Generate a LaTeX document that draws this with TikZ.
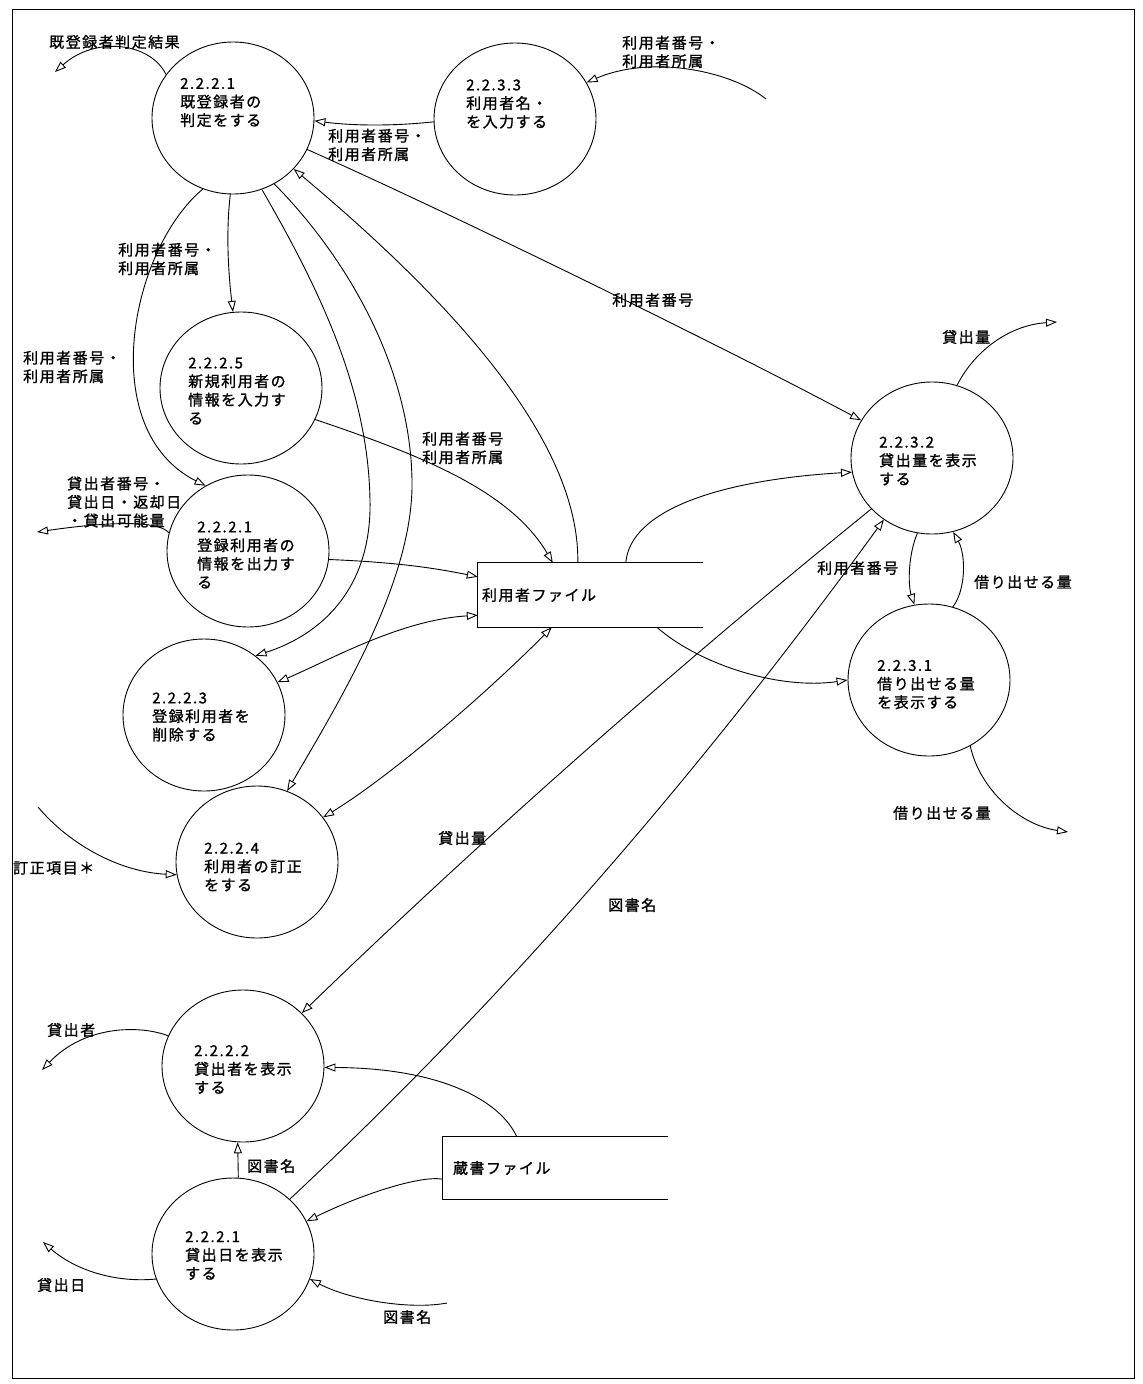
\documentclass[tikz,border=0pt]{standalone}
\usepackage{fontspec}
\setmainfont{Noto Sans CJK JP}[LetterSpace=10,FakeBold=1.2]
\usetikzlibrary{arrows.meta,shapes.geometric}
\begin{document}
\begin{tikzpicture}[x=1pt,y=-1pt,
  proc/.style={ellipse,draw,line width=0.9pt,minimum width=162pt,minimum height=152pt,inner sep=0pt},
  txt/.style={anchor=west,inner sep=0pt,align=left,font=\fontsize{15}{18.5}\selectfont},
  flow/.style={draw,line width=0.9pt,-{Triangle[open,length=11pt,width=8pt]}},
  bflow/.style={draw,line width=0.9pt,{Triangle[open,length=11pt,width=8pt]}-{Triangle[open,length=11pt,width=8pt]}},
  store/.style={inner sep=0pt,minimum width=225pt,align=left,font=\fontsize{15}{18.5}\selectfont},
  storeline/.style={draw,line width=0.9pt}]
\useasboundingbox (0,0) rectangle (1143,1384);
\fill[white] (0,0) rectangle (1143,1384);
\draw[line width=1pt] (12,9) rectangle (1134,1378);

% processes
\node[proc] (c1) at (233,118) {};
\node[proc] (c2) at (515,119) {};
\node[proc] (c3) at (241,388) {};
\node[proc] (c4) at (248,551) {};
\node[proc] (c5) at (204,715) {};
\node[proc] (c6) at (257,862) {};
\node[proc] (c7) at (243,1066) {};
\node[proc] (c8) at (233,1254) {};
\node[proc] (c9) at (932,458) {};
\node[proc] (c10) at (929,680) {};

% process texts
\node[txt] (t1) at (180,102.5) {2.2.2.1\\既登録者の\\判定をする};
\node[txt] (t2) at (466,104) {2.2.3.3\\利用者名・\\を入力する};
\node[txt] (t3) at (188,391) {2.2.2.5\\新規利用者の\\情報を入力す\\る};
\node[txt] (t4) at (197,555) {2.2.2.1\\登録利用者の\\情報を出力す\\る};
\node[txt] (t5) at (152,717) {2.2.2.3\\登録利用者を\\削除する};
\node[txt] (t6) at (204,867) {2.2.2.4\\利用者の訂正\\をする};
\node[txt] (t7) at (194,1069.5) {2.2.2.2\\貸出者を表示\\する};
\node[txt] (t8) at (185,1255.5) {2.2.2.1\\貸出日を表示\\する};
\node[txt] (t9) at (879,461) {2.2.3.2\\貸出量を表示\\する};
\node[txt] (t10) at (877,684.5) {2.2.3.1\\借り出せる量\\を表示する};

% data stores
\node[store,minimum height=64pt,text width=217pt] (uf) at (590.5,595) {利用者ファイル};
\draw[storeline] (uf.north east) -- (uf.north west) -- (uf.south west) -- (uf.south east);
\node[store,minimum height=62pt,text width=205pt] (zs) at (555.5,1168) {蔵書ファイル};
\draw[storeline] (zs.north east) -- (zs.north west) -- (zs.south west) -- (zs.south east);

% free ends
\coordinate (oA) at (55,72);
\coordinate (iC) at (766,99);
\coordinate (o9) at (1057,322);
\coordinate (o10) at (1068,832);
\coordinate (i6) at (38,807);
\coordinate (o4) at (37,532);
\coordinate (o7) at (42,1070);
\coordinate (o8) at (43,1242);
\coordinate (i8) at (447,1303);

% connectors
\draw[flow] (c1.147) .. controls (150,42) and (95,36) .. (oA);
\draw[flow] (c2.182) .. controls (395,126) and (355,126) .. (c1.-2);
\draw[flow] (iC) .. controls (730,70) and (650,55) .. (c2.27);
\draw[flow] (c1.-23) .. controls (448,212) and (722,346) .. (c9.152);
\draw[flow] ([xshift=100pt]uf.north west) .. controls (580,440) and (450,300) .. (c1.-40);
\draw[flow] (c1.-92) .. controls (226,230) and (228,270) .. (c3.96);
\draw[flow] (c1.-113) .. controls (130,250) and (95,430) .. (c4.123);
\draw[flow] (c1.-68) .. controls (320,290) and (368,390) .. (370,500) .. controls (372,590) and (320,635) .. (c5.49);
\draw[flow] (c1.-58) .. controls (340,250) and (410,360) .. (412,480) .. controls (414,580) and (340,700) .. (c6.67);
\draw[flow] (c3.-23) .. controls (420,455) and (510,490) .. ([xshift=75pt]uf.north west);
\draw[flow] (c4.-6) .. controls (390,562) and (430,567) .. ([yshift=-14pt]uf.north west);
\draw[bflow] (c5.24) .. controls (330,660) and (400,620) .. ([yshift=12pt]uf.south west);
\draw[bflow] (c6.34) .. controls (400,770) and (500,680) .. ([xshift=74pt]uf.south west);
\draw[flow] ([xshift=148pt]uf.north west) .. controls (630,510) and (720,480) .. (c9.190);
\draw[flow] ([xshift=179pt]uf.south west) .. controls (700,665) and (780,690) .. (c10.180);
\draw[flow] (c9.220) .. controls (675,668) and (485,836) .. (c7.42);
\draw[flow] (c8.44) .. controls (492,1010) and (684,794) .. (c9.232);
\draw[flow] (c9.259) .. controls (908,555) and (908,585) .. (c10.101);
\draw[flow] (c10.72) .. controls (966,590) and (966,555) .. (c9.-74);
\draw[flow] (c9.71) .. controls (975,350) and (1010,325) .. (o9);
\draw[flow] (c10.-58) .. controls (980,790) and (1020,825) .. (o10);
\draw[flow] (i6) .. controls (70,845) and (120,872) .. (c6.189);
\draw[flow] (c4.167) .. controls (160,522) and (120,520) .. (o4);
\draw[flow] (c7.158) .. controls (140,1025) and (85,1025) .. (o7);
\draw[flow] (c8.198) .. controls (115,1283) and (75,1270) .. (o8);
\draw[flow] (c8.86) -- (c7.266);
\draw[flow] ([xshift=74pt]zs.north west) .. controls (500,1100) and (440,1068) .. (c7.-1);
\draw[flow] ([yshift=20pt]zs.south west) .. controls (420,1175) and (360,1195) .. (c8.24);
\draw[flow] (i8) .. controls (410,1310) and (350,1300) .. (c8.-18);

% labels
\node[txt] (l1) at (49,42) {既登録者判定結果};
\node[txt] (l2) at (328,145) {利用者番号・\\利用者所属};
\node[txt] (l3) at (622,52) {利用者番号・\\利用者所属};
\node[txt] (l4) at (118,259) {利用者番号・\\利用者所属};
\node[txt] (l5) at (23,367) {利用者番号・\\利用者所属};
\node[txt] (l6) at (422,448) {利用者番号\\利用者所属};
\node[txt] (l7) at (612,300) {利用者番号};
\node[txt] (l8) at (942,337) {貸出量};
\node[txt] (l9) at (974,582) {借り出せる量};
\node[txt] (l10) at (817,568) {利用者番号};
\node[txt] (l11) at (893,813) {借り出せる量};
\node[txt] (l12) at (67,502) {貸出者番号・\\貸出日・返却日\\・貸出可能量};
\node[txt] (l13) at (13,868) {訂正項目＊};
\node[txt] (l14) at (438,838) {貸出量};
\node[txt] (l15) at (608,905) {図書名};
\node[txt] (l16) at (47,1030) {貸出者};
\node[txt] (l17) at (247,1166) {図書名};
\node[txt] (l18) at (37,1285) {貸出日};
\node[txt] (l19) at (383,1317) {図書名};
\end{tikzpicture}
\end{document}
